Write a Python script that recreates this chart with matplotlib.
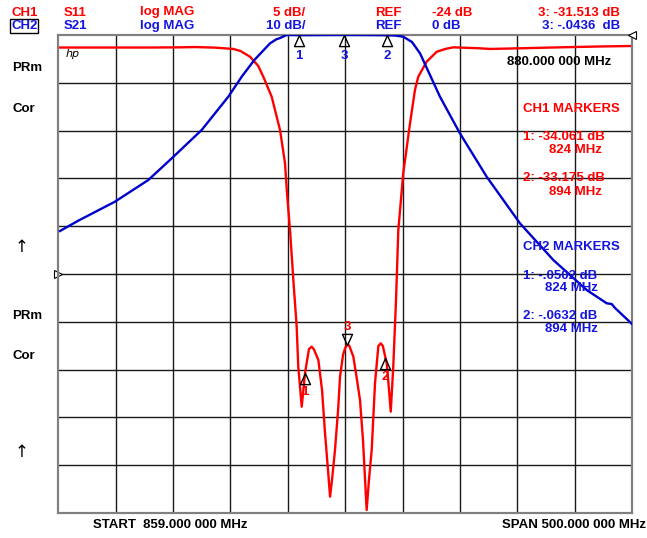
import numpy as np
import matplotlib.pyplot as plt
from matplotlib.path import Path

# frequency axis (MHz) shown on the screen: 10 divisions
f_lo, f_hi = 630.0, 1130.0

# CH1: S11 log MAG, 5 dB/div, ref -24 dB at centre line
s11_freq = [630.0, 666.3, 709.8, 736.0, 749.1, 766.5, 782.5, 788.6, 797.0, 804.2, 808.6, 815.9,
            823.2, 827.5, 829.5, 831.9, 834.8, 837.7, 839.1, 842.1, 845.0, 848.4,
            850.8, 852.8, 856.6, 859.8, 862.4, 865.0, 866.8, 868.5, 871.1, 873.8,
            875.5, 878.1, 879.7, 881.3, 883.5, 887.1, 890.3, 892.9, 895.5, 898.7, 900.7,
            903.1, 906.0, 908.9, 911.0, 912.8, 916.2, 918.2, 919.7, 921.9, 924.3,
            926.3, 930.6, 936.5, 940.8, 943.7, 951.0, 959.8, 967.3, 974.2, 997.5, 1006.2, 1032.3,
            1067.2, 1102.1, 1130.0]
s11_db = [-0.31, -0.31, -0.31, -0.29, -0.26, -0.32, -0.46, -0.67, -1.27, -2.24, -3.36, -5.45,
          -8.94, -12.39, -15.91, -19.41, -24.63, -29.51, -33.70, -37.88, -34.36, -31.85,
          -31.60, -31.90, -33.00, -36.13, -40.63, -44.50, -47.29, -45.55, -42.41, -38.23,
          -34.74, -32.47, -31.85, -31.43, -31.48, -32.65, -35.09, -37.18, -41.36, -48.69, -45.55,
          -42.41, -35.40, -31.53, -31.25, -31.53, -33.34, -36.13, -38.40, -33.70, -26.72,
          -19.40, -13.47, -8.24, -4.75, -3.36, -1.79, -0.75, -0.46, -0.29, -0.39, -0.46, -0.39,
          -0.29, -0.20, -0.15]

# CH2: S21 log MAG, 10 dB/div, ref 0 dB at top line
s21_freq = [631.4, 647.3, 679.3, 708.4, 728.8, 754.9, 778.1, 789.8, 800.8, 814.5,
            820.0, 823.2, 829.0, 840.6, 879.8, 910.3, 923.4, 930.6, 938.2, 945.2,
            953.9, 962.6, 980.0, 1003.3, 1032.3, 1061.4, 1090.5, 1108.0, 1112.3, 1115.2,
            1130.0]
s21_db = [-41.00, -38.85, -34.87, -30.33, -25.80, -19.87, -12.91, -8.72, -5.23, -1.74,
          -0.90, -0.63, 0.0, -0.04, 0.0, -0.04, -0.10, -0.36, -1.46, -3.83,
          -8.37, -12.91, -20.57, -29.64, -39.39, -47.07, -53.35, -56.13, -56.28, -57.11,
          -60.46]

# marker positions on screen (MHz)
ch1_mk_freq = [845.0, 915.1, 881.5]
ch2_mk_freq = [840.0, 916.2, 879.2]
mk_names = ['1', '2', '3']

RED = '#ff0000'
BLUE = '#0000cc'
TBLUE = '#1414e0'

W, H = 647, 538
fig = plt.figure(figsize=(W / 100, H / 100), dpi=100)
fig.patch.set_facecolor('white')

def fx(x):
    return x / W

def fy(y):
    return 1 - y / H

ax = fig.add_axes([fx(58.4), fy(513), (632 - 58.4) / W, (513 - 35) / H])
ax2 = ax.twinx()
ax.set_xlim(f_lo, f_hi)
ax.set_ylim(-49, 1)
ax2.set_ylim(-100, 0)

# graticule
for i in range(1, 10):
    ax.axvline(f_lo + i * 50, color='#1a1a1a', lw=1.0, zorder=1)
    ax.axhline(-49 + i * 5, color='#1a1a1a', lw=1.0, zorder=1)
for a in (ax, ax2):
    a.set_xticks([])
    a.set_yticks([])
    for s in a.spines.values():
        s.set_color('#808080')
        s.set_linewidth(1.5)

ax.plot(s11_freq, s11_db, color=RED, lw=1.7, zorder=3)
ax2.plot(s21_freq, s21_db, color=BLUE, lw=1.7, zorder=3)

tri_up = Path([(0, 0), (-0.45, -1), (0.45, -1), (0, 0)],
              [Path.MOVETO, Path.LINETO, Path.LINETO, Path.CLOSEPOLY])
tri_dn = Path([(0, 0), (-0.45, 1), (0.45, 1), (0, 0)],
              [Path.MOVETO, Path.LINETO, Path.LINETO, Path.CLOSEPOLY])

bold = dict(family=['Liberation Sans', 'DejaVu Sans'], weight='bold', fontsize=9.5)

# CH1 markers
for f, name in zip(ch1_mk_freq, mk_names):
    y = np.interp(f, s11_freq, s11_db)
    if name == '3':
        ax.plot([f], [y], marker=tri_dn, ms=16, mfc='none', mec='black', mew=1.0, zorder=5)
        ax.annotate(name, (f, y), xytext=(0, 13), textcoords='offset points',
                    ha='center', va='center', color=RED, **bold)
    else:
        ax.plot([f], [y], marker=tri_up, ms=16, mfc='none', mec='black', mew=1.0, zorder=5)
        ax.annotate(name, (f, y), xytext=(0, -14), textcoords='offset points',
                    ha='center', va='center', color=RED, **bold)

# CH2 markers
for f, name in zip(ch2_mk_freq, mk_names):
    y = np.interp(f, s21_freq, s21_db)
    ax2.plot([f], [y], marker=tri_up, ms=16, mfc='none', mec='black', mew=1.0,
             zorder=5, clip_on=False)
    ax2.annotate(name, (f, y), xytext=(0, -15), textcoords='offset points',
                 ha='center', va='center', color=TBLUE, **bold)

# header
fig.text(fx(12), fy(12.5), 'CH1', color=RED, va='center', **bold)
fig.text(fx(11), fy(26), 'CH2', color=TBLUE, va='center',
         bbox=dict(boxstyle='square,pad=0.08', fc='none', ec='black', lw=1.0), **bold)
fig.text(fx(63.5), fy(12.5), 'S11', color=RED, va='center', **bold)
fig.text(fx(63.5), fy(26), 'S21', color=TBLUE, va='center', **bold)
fig.text(fx(140), fy(12.5), 'log MAG', color=RED, va='center', **bold)
fig.text(fx(140), fy(26), 'log MAG', color=TBLUE, va='center', **bold)
fig.text(fx(305), fy(12.5), '5 dB/', color=RED, va='center', ha='right', **bold)
fig.text(fx(305), fy(26), '10 dB/', color=TBLUE, va='center', ha='right', **bold)
fig.text(fx(375), fy(12.5), 'REF', color=RED, va='center', **bold)
fig.text(fx(375), fy(26), 'REF', color=TBLUE, va='center', **bold)
fig.text(fx(431.5), fy(12.5), '-24 dB', color=RED, va='center', **bold)
fig.text(fx(431.5), fy(26), '0 dB', color=TBLUE, va='center', **bold)
fig.text(fx(620), fy(12.5), '3: -31.513 dB', color=RED, va='center', ha='right', **bold)
fig.text(fx(620), fy(26), '3: -.0436  dB', color=TBLUE, va='center', ha='right', **bold)

# left annotations
for y, s in [(67.7, 'PRm'), (109, 'Cor'), (316, 'PRm'), (356, 'Cor')]:
    fig.text(fx(12.5), fy(y), s, color='black', va='center', **bold)
for y in (246.7, 452):
    fig.text(fx(22), fy(y), '\u2191', color='black', va='center', ha='center',
             family='DejaVu Sans', fontsize=12)

# reference position indicators
ax.plot([0], [-24], transform=ax.get_yaxis_transform(), marker='>', ms=6,
        mfc='white', mec='black', mew=0.8, clip_on=False, zorder=6, linestyle='none')
ax2.plot([1], [0], transform=ax2.get_yaxis_transform(), marker='<', ms=6,
         mfc='white', mec='black', mew=0.8, clip_on=False, zorder=6, linestyle='none')

fig.text(fx(66), fy(54), 'hp', style='italic', fontsize=8, va='center',
         family=['DejaVu Sans'])

# right annotations
fig.text(fx(611), fy(62.3), '880.000 000 MHz', color='black', va='center', ha='right', **bold)
fig.text(fx(523), fy(109.3), 'CH1 MARKERS', color=RED, va='center', **bold)
fig.text(fx(523), fy(137.3), '1: -34.061 dB', color=RED, va='center', **bold)
fig.text(fx(602), fy(150), '824 MHz', color=RED, va='center', ha='right', **bold)
fig.text(fx(523), fy(178.3), '2: -33.175 dB', color=RED, va='center', **bold)
fig.text(fx(602), fy(191.7), '894 MHz', color=RED, va='center', ha='right', **bold)
fig.text(fx(523), fy(247.3), 'CH2 MARKERS', color=TBLUE, va='center', **bold)
fig.text(fx(523), fy(276), '1: -.0502 dB', color=TBLUE, va='center', **bold)
fig.text(fx(598), fy(288.3), '824 MHz', color=TBLUE, va='center', ha='right', **bold)
fig.text(fx(523), fy(316), '2: -.0632 dB', color=TBLUE, va='center', **bold)
fig.text(fx(598), fy(329), '894 MHz', color=TBLUE, va='center', ha='right', **bold)

# footer
fig.text(fx(93.5), fy(525.5), 'START  859.000 000 MHz', color='black', va='center', **bold)
fig.text(fx(502.5), fy(525.5), 'SPAN 500.000 000 MHz', color='black', va='center', **bold)

fig.savefig('out.png', dpi=100, facecolor='white')
